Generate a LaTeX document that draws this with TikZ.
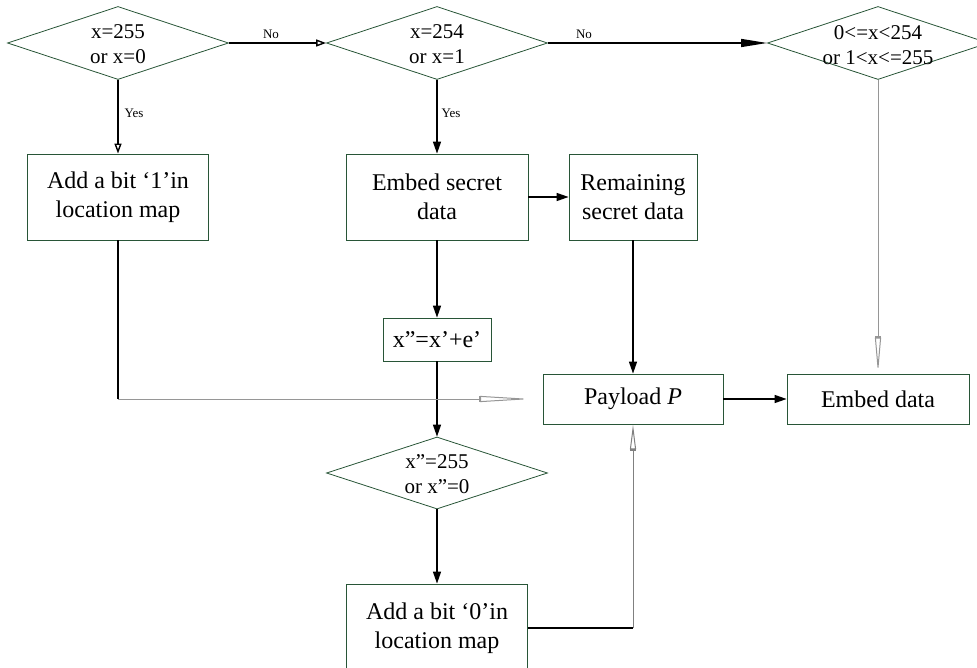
\documentclass[tikz,border=0pt]{standalone}
\usepackage{fontspec}
\setmainfont{Liberation Serif}
\usetikzlibrary{shapes.geometric,arrows.meta,calc}
\definecolor{bgreen}{RGB}{40,85,55}
\definecolor{lgray}{RGB}{150,150,150}
\begin{document}
\begin{tikzpicture}[x=1pt,y=-1pt,
 box/.style={draw=bgreen,line width=0.8pt,rectangle,inner sep=0pt,align=center,font=\fontsize{24}{29}\selectfont},
 dia/.style={draw=bgreen,line width=0.8pt,diamond,inner sep=0pt,minimum width=221pt,minimum height=73pt},
 dtext/.style={font=\fontsize{21}{25}\selectfont,align=center,inner sep=0pt},
 lab/.style={font=\fontsize{13}{15}\selectfont,inner sep=0pt},
 main/.style={line width=1.4pt},
 heavy/.style={line width=2.4pt},
 thinl/.style={draw=lgray,line width=1pt},
 fa/.style={-{Triangle[length=12pt,width=8pt]}},
 longfa/.style={-{Triangle[length=26pt,width=8pt]}},
 oa/.style={-{Triangle[open,length=10pt,width=7pt,fill=white]}},
 barlong/.style={-{Bar[width=6pt,line width=1.5pt,sep=0pt]Triangle[open,length=#1,width=6pt,fill=white]}},
]
\useasboundingbox (0,0) rectangle (977,668);

% decisions
\node[dia] (d1) at (118,43) {};
\node[dtext] (d1t) at (118,44) {x=255\\or x=0};
\node[dia] (d2) at (437,43) {};
\node[dtext] (d2t) at (437,44) {x=254\\or x=1};
\node[dia] (d3) at (878,43) {};
\node[dtext] (d3t) at (878,45) {0<=x<254\\or 1<x<=255};
\node[dia,minimum height=72pt] (d4) at (437,473) {};
\node[dtext] (d4t) at (437,474) {x”=255\\or x”=0};

% boxes
\node[box,minimum width=181pt,minimum height=86pt] (b1) at (118,197) {Add a bit ‘1’in\\location map};
\node[box,minimum width=182pt,minimum height=86pt] (b2) at (437,197) {Embed secret\\data};
\node[box,minimum width=128pt,minimum height=86pt] (b3) at (633,197) {Remaining\\secret data};
\node[box,minimum width=108pt,minimum height=43pt] (b4) at (437,339.5) {x”=x’+e’};
\node[box,minimum width=180pt,minimum height=50pt] (pay) at (633,399) {Payload \textit{P}};
\node[box,minimum width=182pt,minimum height=50pt] (emb) at (878,399) {Embed data};
\node[box,minimum width=181pt,minimum height=88pt] (b6) at (437,628) {Add a bit ‘0’in\\location map};

% labels
\node[lab] (no1) at (271,34) {No};
\node[lab] (no2) at (584,34) {No};
\node[lab] (yes1) at (134,113) {Yes};
\node[lab] (yes2) at (451,113) {Yes};

% helper coordinates
\coordinate (c1) at (118,399);
\coordinate (c1e) at (532,399);
\coordinate (c2) at (633,628);

% connectors
\draw[main,oa] (d1.east) -- (d2.west);
\draw[main,longfa] (d2.east) -- (d3.west);
\draw[main,oa] (d1.south) -- (b1.north);
\draw[main,fa] (d2.south) -- (b2.north);
\draw[main,fa] (b2.east) -- (b3.west);
\draw[main,fa] (b2.south) -- (b4.north);
\draw[main,fa] (b3.south) -- (pay.north);
\draw[main,fa] (b4.south) -- (d4.north);
\draw[main,fa] (d4.south) -- (b6.north);
\draw[main,fa] (pay.east) -- (emb.west);
\draw[thinl,barlong=36pt] (d3.south) -- (emb.north);
\draw[heavy] (b1.south) -- (c1);
\draw[thinl,barlong=52pt] (c1) -- (c1e);
\draw[heavy] (b6.east) -- (c2);
\draw[thinl,barlong=25pt,draw=gray] (c2) -- (pay.south);
\end{tikzpicture}
\end{document}
